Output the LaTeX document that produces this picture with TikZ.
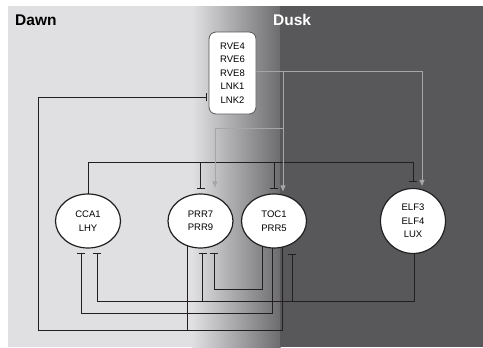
\documentclass[tikz,border=0pt]{standalone}
\usepackage{fontspec}
\setmainfont{Liberation Sans}
\usepackage{tikz}
\usetikzlibrary{arrows.meta,positioning,calc,shapes.geometric,backgrounds}
\definecolor{clDawn}{HTML}{E0E0E2}
\definecolor{clDusk}{HTML}{58585A}
\definecolor{clMid}{HTML}{6C6C6F}
\definecolor{clLine}{HTML}{231F20}
\definecolor{clAct}{HTML}{A6A6A8}
\pgfdeclarelayer{sky}
\pgfsetlayers{sky,background,main}
\tikzset{
  gene/.style={ellipse, draw=clLine, line width=1.2pt, fill=white, inner sep=0pt,
               minimum width=65pt, minimum height=54pt, align=center,
               font=\fontsize{9.5}{13.5}\selectfont},
  hub/.style={rectangle, rounded corners=7pt, draw=clLine!75, line width=0.8pt,
              fill=white, inner sep=0pt, minimum width=47pt, minimum height=82pt,
              align=center, font=\fontsize{9.5}{13.5}\selectfont},
  phase/.style={anchor=base west, inner sep=0pt, font=\fontsize{15.5}{18}\selectfont\bfseries},
  link/.style={draw=clLine, line width=1pt},
  inhibit/.style={link, -{Bar[width=8pt]}},
  inhibitback/.style={link, {Bar[width=8pt]}-},
  activate/.style={draw=clAct, line width=1pt, -{Triangle[length=6pt,width=5pt]}},
}
\begin{document}
\begin{tikzpicture}[x=1pt, y=-1pt]
  \useasboundingbox (0,0) rectangle (483,348);
  \begin{pgfonlayer}{sky}
    \fill[clDawn] (8,6) rectangle (192.5,347);
    \shade[left color=clDawn, right color=clMid] (192,6) rectangle (280.5,347);
    \fill[clDusk] (280,6) rectangle (483,347);
  \end{pgfonlayer}

  \node[phase] (dawn) at (15,26) {Dawn};
  \node[phase, text=white] (dusk) at (273,26) {Dusk};
  \node[hub] (rve) at (232.5,73) {RVE4\\RVE6\\RVE8\\LNK1\\LNK2};
  \node[gene] (cca) at (88,221) {CCA1\\LHY};
  \node[gene] (prr) at (200.5,221) {PRR7\\PRR9};
  \node[gene] (toc) at (274,221) {TOC1\\PRR5};
  \node[gene, minimum height=65pt] (elf) at (413,221) {ELF3\\ELF4\\LUX};

  \coordinate (topbus) at (0,162);
  \coordinate (rvesplit) at (283,71);
  \coordinate (prrsplit) at (283,128);
  \coordinate (rvecorner) at (38,330);
  \coordinate (toccorner) at (81,313);
  \coordinate (elfcorner) at (97,301);
  \coordinate (prrcorner) at (214,289);

  \begin{scope}[on background layer]
    \draw[inhibit, shorten >=6pt] (cca.center) |- (topbus -| elf.center) -- (elf.north);
    \draw[inhibit, shorten >=4.5pt] (topbus -| prr.center) -- (prr.north);
    \draw[inhibit, shorten >=4.5pt] (topbus -| toc.center) -- (toc.north);

    \draw[activate, shorten >=2pt] ([yshift=2pt]rve.east) -| ([xshift=9pt]elf.north);
    \draw[activate, shorten >=2pt] (rvesplit) -- ([xshift=9pt]toc.north);
    \draw[activate, shorten >=6pt] (prrsplit) -| ([xshift=14.5pt]prr.north);

    \draw[inhibit, shorten >=2pt] ([xshift=8pt]toc.center) |- (rvecorner) |- ([yshift=-24pt]rve.west);
    \draw[link] ([xshift=-13.5pt]prr.center) |- (rvecorner);
    \draw[inhibit, shorten >=4.5pt] ([xshift=-2pt]toc.center) |- (toccorner) -- ([xshift=-7pt]cca.south);
    \draw[inhibit, shorten >=4.5pt] ([xshift=1pt]elf.center) |- (elfcorner) -- ([xshift=9pt]cca.south);
    \draw[inhibitback, shorten <=4.5pt] ([xshift=2pt]prr.south) |- (elfcorner);
    \draw[inhibitback, shorten <=5pt] ([xshift=18pt]toc.south) |- (elfcorner);
    \draw[inhibit, shorten >=4.5pt] ([xshift=-12pt]toc.center) |- (prrcorner) -- ([xshift=13.5pt]prr.south);
  \end{scope}
\end{tikzpicture}
\end{document}
